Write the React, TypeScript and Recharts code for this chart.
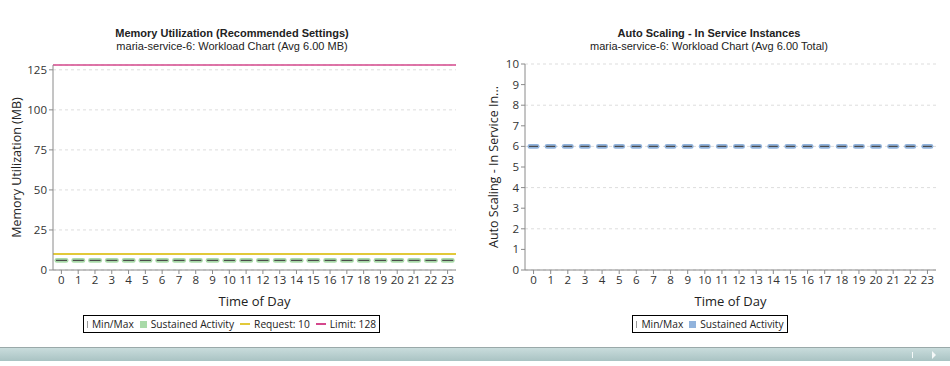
import React from "react"
import {
    ComposedChart,
    Bar,
    XAxis,
    YAxis,
    CartesianGrid,
    ReferenceLine,
} from "recharts"

// hours of the day
const hours = ["0", "1", "2", "3", "4", "5", "6", "7", "8", "9", "10", "11", "12", "13", "14", "15", "16", "17", "18", "19", "20", "21", "22", "23"]

// memory (MB) per hour
const memMin = [6, 6, 6, 6, 6, 6, 6, 6, 6, 6, 6, 6, 6, 6, 6, 6, 6, 6, 6, 6, 6, 6, 6, 6]
const memLow = [6, 6, 6, 6, 6, 6, 6, 6, 6, 6, 6, 6, 6, 6, 6, 6, 6, 6, 6, 6, 6, 6, 6, 6]
const memAvg = [6, 6, 6, 6, 6, 6, 6, 6, 6, 6, 6, 6, 6, 6, 6, 6, 6, 6, 6, 6, 6, 6, 6, 6]
const memHigh = [6, 6, 6, 6, 6, 6, 6, 6, 6, 6, 6, 6, 6, 6, 6, 6, 6, 6, 6, 6, 6, 6, 6, 6]
const memMax = [6, 6, 6, 6, 6, 6, 6, 6, 6, 6, 6, 6, 6, 6, 6, 6, 6, 6, 6, 6, 6, 6, 6, 6]
const memRequest = 10
const memLimit = 128
const memTicks = [0, 25, 50, 75, 100, 125]

// in service instances per hour
const instMin = [6, 6, 6, 6, 6, 6, 6, 6, 6, 6, 6, 6, 6, 6, 6, 6, 6, 6, 6, 6, 6, 6, 6, 6]
const instLow = [6, 6, 6, 6, 6, 6, 6, 6, 6, 6, 6, 6, 6, 6, 6, 6, 6, 6, 6, 6, 6, 6, 6, 6]
const instAvg = [6, 6, 6, 6, 6, 6, 6, 6, 6, 6, 6, 6, 6, 6, 6, 6, 6, 6, 6, 6, 6, 6, 6, 6]
const instHigh = [6, 6, 6, 6, 6, 6, 6, 6, 6, 6, 6, 6, 6, 6, 6, 6, 6, 6, 6, 6, 6, 6, 6, 6]
const instMax = [6, 6, 6, 6, 6, 6, 6, 6, 6, 6, 6, 6, 6, 6, 6, 6, 6, 6, 6, 6, 6, 6, 6, 6]
const instTicks = [0, 1, 2, 3, 4, 5, 6, 7, 8, 9, 10]

const GREEN = "#a9daa9"
const BLUE = "#91b3dc"
const YELLOW = "#e2c93a"
const PINK = "#d5488d"
const AXIS = "#8a8a8a"
const FONT = "'Open Sans', sans-serif"

const memData = hours.map((h, i) => ({
    hour: h, min: memMin[i], low: memLow[i], avg: memAvg[i], high: memHigh[i], max: memMax[i],
}))
const instData = hours.map((h, i) => ({
    hour: h, min: instMin[i], low: instLow[i], avg: instAvg[i], high: instHigh[i], max: instMax[i],
}))

function Whisker(props: any) {
    const { x, y, width, height } = props
    if (x == null || y == null) return null
    const cx = x + width / 2
    return <line x1={cx} x2={cx} y1={y} y2={y + height} stroke="#bbbbbb" strokeWidth={1} />
}

function makeBox(color: string) {
    return function Box(props: any) {
        const { x, y, width, height, payload } = props
        if (x == null || y == null) return null
        const pad = 2.4
        const range = payload.high - payload.low
        const ay = range > 0 ? y + (height * (payload.high - payload.avg)) / range : y
        return (
            <g>
                <rect x={x + 0.5} y={y - pad} width={width - 1} height={height + pad * 2}
                    rx={pad} ry={pad} fill={color} />
                <line x1={x + 2} x2={x + width - 2} y1={ay} y2={ay} stroke="#4b4b4b" strokeWidth={1.2} />
            </g>
        )
    }
}

function LegendBox({ items, left, width }: { items: { label: string, icon: string, color: string }[], left: number, width: number }) {
    return (
        <div style={{
            position: "absolute", left, top: 315, width, height: 18, border: "1px solid #000",
            display: "flex", alignItems: "center", justifyContent: "center", gap: 6,
            fontFamily: FONT, fontSize: 10.2, color: "#222", background: "#fff", boxSizing: "border-box",
            whiteSpace: "nowrap",
        }}>
            {items.map(it => (
                <span key={it.label} style={{ display: "flex", alignItems: "center", gap: 4, flexShrink: 0 }}>
                    {it.icon === "whisker" && <span style={{ width: 1, height: 7, background: it.color, display: "inline-block", flexShrink: 0 }} />}
                    {it.icon === "square" && <span style={{ width: 7, height: 7, background: it.color, display: "inline-block", flexShrink: 0 }} />}
                    {it.icon === "line" && <span style={{ width: 10, height: 2, background: it.color, display: "inline-block", flexShrink: 0 }} />}
                    {it.label}
                </span>
            ))}
        </div>
    )
}

function Title({ title, sub, center }: { title: string, sub: string, center: number }) {
    return (
        <div style={{ position: "absolute", left: center - 200, top: 27, width: 400, textAlign: "center", color: "#222" }}>
            <div style={{ fontFamily: "'Liberation Sans', Arial, sans-serif", fontWeight: "bold", fontSize: 11, lineHeight: "13px" }}>{title}</div>
            <div style={{ fontFamily: "'Liberation Sans', Arial, sans-serif", fontSize: 11, lineHeight: "13px" }}>{sub}</div>
        </div>
    )
}

const tickStyle = { fill: "#333", fontSize: 11.5, fontFamily: FONT }

export default function App() {
    return (
        <div style={{ position: "relative", width: 950, height: 366, background: "#fff", overflow: "hidden" }}>
            <style>{`body{margin:0}`}</style>

            <Title title="Memory Utilization (Recommended Settings)" sub="maria-service-6: Workload Chart (Avg 6.00 MB)" center={232} />
            <div style={{ position: "absolute", left: 0, top: 0 }}>
                <ComposedChart width={470} height={310} data={memData}
                    margin={{ top: 65, right: 14, left: 10, bottom: 0 }} barCategoryGap={1}>
                    <CartesianGrid vertical={false} stroke="#dddddd" strokeDasharray="3 3" />
                    <XAxis dataKey="hour" interval={0} tickSize={4} height={40} stroke={AXIS}
                        tick={tickStyle}
                        label={{ value: "Time of Day", position: "insideBottom", offset: 4, fill: "#222", fontSize: 13, fontFamily: FONT }} />
                    <XAxis dataKey="hour" xAxisId="w" hide />
                    <YAxis domain={[0, memLimit]} ticks={memTicks} width={43} tickSize={4} stroke={AXIS}
                        tick={tickStyle} allowDataOverflow
                        label={{ value: "Memory Utilization (MB)", angle: -90, position: "insideLeft", offset: 7, style: { textAnchor: "middle" }, fill: "#222", fontSize: 12.5, fontFamily: FONT }} />
                    <ReferenceLine y={memRequest} stroke={YELLOW} strokeWidth={2} />
                    <ReferenceLine y={memLimit} stroke={PINK} strokeWidth={1.5} />
                    <Bar xAxisId="w" dataKey={(d: any) => [d.min, d.max]} shape={Whisker} isAnimationActive={false} />
                    <Bar dataKey={(d: any) => [d.low, d.high]} shape={makeBox(GREEN)} isAnimationActive={false} />
                </ComposedChart>
            </div>
            <LegendBox left={83} width={297} items={[
                { label: "Min/Max", icon: "whisker", color: "#999999" },
                { label: "Sustained Activity", icon: "square", color: GREEN },
                { label: "Request: 10", icon: "line", color: YELLOW },
                { label: "Limit: 128", icon: "line", color: PINK },
            ]} />

            <Title title="Auto Scaling - In Service Instances" sub="maria-service-6: Workload Chart (Avg 6.00 Total)" center={709} />
            <div style={{ position: "absolute", left: 470, top: 0 }}>
                <ComposedChart width={480} height={310} data={instData}
                    margin={{ top: 64, right: 14, left: 10, bottom: 0 }} barCategoryGap={2}>
                    <CartesianGrid vertical={false} stroke="#dddddd" strokeDasharray="3 3" />
                    <XAxis dataKey="hour" interval={0} tickSize={4} height={40} stroke={AXIS}
                        tick={tickStyle}
                        label={{ value: "Time of Day", position: "insideBottom", offset: 4, fill: "#222", fontSize: 13, fontFamily: FONT }} />
                    <XAxis dataKey="hour" xAxisId="w" hide />
                    <YAxis domain={[0, 10]} ticks={instTicks} width={45} tickSize={4} stroke={AXIS}
                        tick={tickStyle}
                        label={{ value: "Auto Scaling - In Service In...", angle: -90, position: "insideLeft", offset: 14, style: { textAnchor: "middle" }, fill: "#222", fontSize: 12.5, fontFamily: FONT }} />
                    <Bar xAxisId="w" dataKey={(d: any) => [d.min, d.max]} shape={Whisker} isAnimationActive={false} />
                    <Bar dataKey={(d: any) => [d.low, d.high]} shape={makeBox(BLUE)} isAnimationActive={false} />
                </ComposedChart>
            </div>
            <LegendBox left={632} width={156} items={[
                { label: "Min/Max", icon: "whisker", color: "#999999" },
                { label: "Sustained Activity", icon: "square", color: BLUE },
            ]} />

            {/* status bar along the bottom */}
            <div style={{
                position: "absolute", left: 0, top: 347, width: 950, height: 13,
                borderTop: "1px solid #9aa9a9", background: "linear-gradient(#c9dcdc, #a9c3c3)",
            }}>
                <div style={{ position: "absolute", left: 912, top: 4, width: 1, height: 6, background: "#f4f8f8" }} />
                <div style={{ position: "absolute", left: 932, top: 3, width: 0, height: 0, borderTop: "4px solid transparent", borderBottom: "4px solid transparent", borderLeft: "4px solid #f4f8f8" }} />
            </div>
        </div>
    )
}
